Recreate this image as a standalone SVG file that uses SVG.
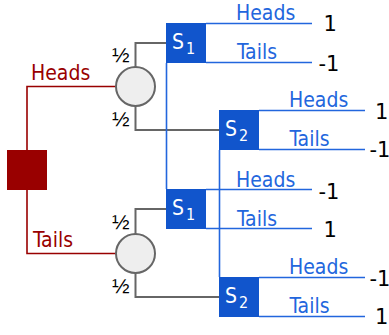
<svg xmlns="http://www.w3.org/2000/svg" width="389" height="335" viewBox="0 0 389 335">
<style>
text{font-family:"DejaVu Sans",Verdana,sans-serif}
.red{fill:none;stroke:#990000;stroke-width:1.6}
.gray{fill:none;stroke:#666666;stroke-width:2}
.blue{fill:none;stroke:#2266dd;stroke-width:1.6}
.chance{fill:#eeeeee;stroke:#666666;stroke-width:2}
.box{fill:#1155cc}
.lbl{font-family:"DejaVu Sans Condensed","DejaVu Sans",sans-serif;font-stretch:condensed;font-size:21px}
.rl{fill:#990000}
.bl{fill:#2266dd}
.val{font-size:21px;fill:#000}
.half{font-family:"Liberation Sans",Arial,sans-serif;font-size:21px;fill:#000}
.s{font-family:"DejaVu Sans Condensed","DejaVu Sans",sans-serif;font-stretch:condensed;font-size:21px;fill:#fff}
.sub{font-family:"DejaVu Sans Condensed","DejaVu Sans",sans-serif;font-stretch:condensed;font-size:16px;fill:#fff}
</style>
<g id="connectors">
<path class="red" d="M27,150 V86.5 H116"/>
<path class="red" d="M27,190 V253.5 H116"/>
<path class="gray" d="M135.5,67 V43 H166"/>
<path class="gray" d="M135.5,106 V130 H219"/>
<path class="gray" d="M135.5,234 V209 H166"/>
<path class="gray" d="M135.5,273 V297 H219"/>
<path class="blue" d="M166.5,63 V189"/>
<path class="blue" d="M219.5,150 V277"/>
<path class="blue" d="M206,23.5 H312 M206,62.5 H312"/>
<path class="blue" d="M206,189.5 H312 M206,228.5 H312"/>
<path class="blue" d="M259,110.5 H365 M259,149.5 H365"/>
<path class="blue" d="M259,277.5 H365 M259,316.5 H365"/>
<text class="lbl rl" x="31" y="80">Heads</text>
<text class="lbl rl" x="33" y="247">Tails</text>
<text class="half" x="112" y="62">½</text>
<text class="half" x="112" y="126">½</text>
<text class="half" x="112" y="229">½</text>
<text class="half" x="112" y="293">½</text>
<text class="lbl bl" x="236" y="20">Heads</text>
<text class="lbl bl" x="237" y="58.5">Tails</text>
<text class="lbl bl" x="289" y="106.5">Heads</text>
<text class="lbl bl" x="289.5" y="145.5">Tails</text>
<text class="lbl bl" x="236" y="186.5">Heads</text>
<text class="lbl bl" x="237" y="226">Tails</text>
<text class="lbl bl" x="289" y="274">Heads</text>
<text class="lbl bl" x="289.5" y="313">Tails</text>
</g>
<g id="decision"><rect x="7" y="150" width="40" height="40" fill="#990000"/></g>
<g id="chance1"><circle class="chance" cx="135.5" cy="86.5" r="19.5"/></g>
<g id="chance2"><circle class="chance" cx="135.5" cy="253.5" r="19.5"/></g>
<g id="s1a"><rect class="box" x="166" y="23" width="40" height="40"/><text class="s" x="172" y="48.5">S</text><text class="sub" x="186" y="53.5">1</text></g>
<g id="s2a"><rect class="box" x="219" y="110" width="40" height="40"/><text class="s" x="225" y="135.5">S</text><text class="sub" x="239" y="140.5">2</text></g>
<g id="s1b"><rect class="box" x="166" y="189" width="40" height="40"/><text class="s" x="172" y="214.5">S</text><text class="sub" x="186" y="219.5">1</text></g>
<g id="s2b"><rect class="box" x="219" y="277" width="40" height="40"/><text class="s" x="225" y="302.5">S</text><text class="sub" x="239" y="307.5">2</text></g>
<g id="values">
<text class="val" x="323.5" y="31">1</text>
<text class="val" x="318.5" y="70.5">-1</text>
<text class="val" x="375" y="118.5">1</text>
<text class="val" x="369.5" y="157">-1</text>
<text class="val" x="318.5" y="198.5">-1</text>
<text class="val" x="323.5" y="237">1</text>
<text class="val" x="369.5" y="285.5">-1</text>
<text class="val" x="375" y="323.5">1</text>
</g>
</svg>
